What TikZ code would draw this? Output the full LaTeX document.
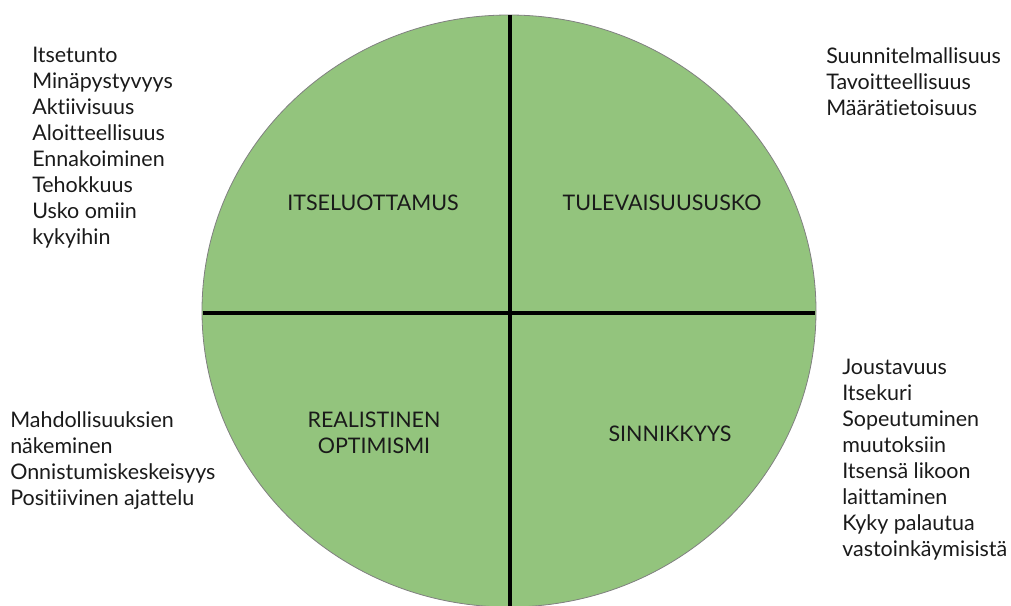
\documentclass[tikz,border=0pt]{standalone}
\usepackage{fontspec}
\setmainfont[Ligatures=CommonOff]{Lato}
\usetikzlibrary{calc}

\definecolor{quadgreen}{HTML}{93C47D}
\definecolor{txtgray}{HTML}{1A1A1A}

\begin{document}
\begin{tikzpicture}[x=0.75pt, y=-0.75pt,
    every node/.style={font=\fontsize{16.1}{19.5}\selectfont, text=txtgray, inner sep=0pt},
    listtext/.style={align=left, anchor=north west},
    quadtext/.style={align=center}]

    % Canvas
    \useasboundingbox (0,0) rectangle (1011,606);

    % Circle
    \filldraw[fill=quadgreen, draw=gray, line width=0.6pt] (509,311) ellipse[x radius=307, y radius=296];

    % Dividing lines
    \coordinate (vtop) at (510,15);
    \coordinate (vbot) at (510,606);
    \coordinate (hleft) at (203,313);
    \coordinate (hright) at (815,313);
    \draw[line width=3pt] (vtop) -- (vbot);
    \draw[line width=3pt] (hleft) -- (hright);

    % Quadrant labels
    \node[quadtext] (itse) at (373,203) {ITSELUOTTAMUS};
    \node[quadtext] (tule) at (662,203) {TULEVAISUUSUSKO};
    \node[quadtext] (real) at (374,433) {REALISTINEN\\OPTIMISMI};
    \node[quadtext] (sinn) at (670,434) {SINNIKKYYS};

    % Lists
    \node[listtext] (itselist) at (32,47) {Itsetunto\\Minäpystyvyys\\Aktiivisuus\\Aloitteellisuus\\Ennakoiminen\\Tehokkuus\\Usko omiin\\kykyihin};
    \node[listtext] (tulelist) at (826,47) {Suunnitelmallisuus\\Tavoitteellisuus\\Määrätietoisuus};
    \node[listtext] (reallist) at (10,411) {Mahdollisuuksien\\näkeminen\\Onnistumiskeskeisyys\\Positiivinen ajattelu};
    \node[listtext] (sinnlist) at (842,359) {Joustavuus\\Itsekuri\\Sopeutuminen\\muutoksiin\\Itsensä likoon\\laittaminen\\Kyky palautua\\vastoinkäymisistä};

\end{tikzpicture}
\end{document}
